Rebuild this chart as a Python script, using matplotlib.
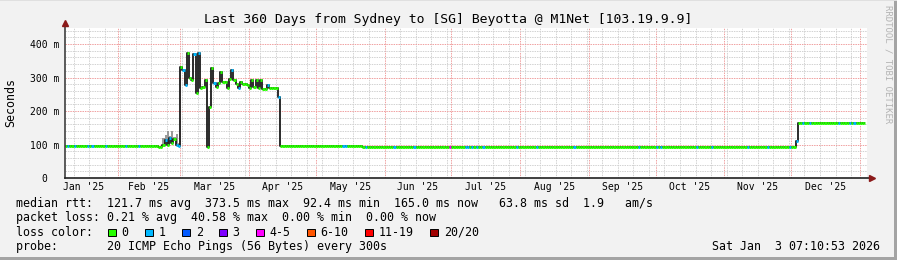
import numpy as np
import pandas as pd
import matplotlib
matplotlib.use("Agg")
import matplotlib.pyplot as plt
import matplotlib.dates as mdates
from matplotlib.patches import Rectangle
from matplotlib.lines import Line2D
from matplotlib.ticker import MultipleLocator, FuncFormatter, NullFormatter

title = "Last 360 Days from Sydney to [SG] Beyotta @ M1Net [103.19.9.9]"
t_start = pd.Timestamp("2025-01-08 07:10:53")
t_end = pd.Timestamp("2026-01-03 07:10:53")

# flat parts of the median rtt (ms)
flat_start = ["2025-01-08", "2025-02-19", "2025-04-15", "2025-05-22", "2025-12-03", "2025-12-04"]
flat_end = ["2025-02-18", "2025-02-20", "2025-05-21", "2025-12-02", "2025-12-03", "2026-01-03"]
flat_rtt = [95, 92.4, 95, 92.5, 111, 165]

# noisy parts (one value per day)
feb_first = "2025-02-21"
feb_rtt = [100, 112, 100, 120, 105, 115, 100, 95]
feb_smoke = [118, 128, 140, 125, 140, 122, 132, 105]

mar_first = "2025-03-01"
mar_rtt = [332, 322, 278, 372, 300, 293, 370, 253, 373.5, 268,
           272, 293, 93, 213, 327, 285, 272, 283, 317, 287,
           287, 268, 297, 322, 293, 280, 268, 287, 280, 282,
           278, 268, 293, 271, 293, 268, 293, 266, 265, 277,
           268, 268, 268, 270, 243]

# days with packet loss (other days: 0 lost)
loss1_days = ["2025-01-09", "2025-01-12", "2025-01-18", "2025-01-20", "2025-01-26",
              "2025-02-04", "2025-02-10", "2025-02-22", "2025-02-24", "2025-02-27",
              "2025-02-28", "2025-03-02", "2025-03-03", "2025-03-07", "2025-03-09",
              "2025-03-16", "2025-03-24", "2025-03-27", "2025-04-09", "2025-04-14",
              "2025-05-13", "2025-05-14", "2025-05-23", "2025-06-05", "2025-06-14",
              "2025-07-07", "2025-07-08", "2025-07-10", "2025-07-12", "2025-07-15",
              "2025-07-30", "2025-08-08", "2025-08-25", "2025-09-23", "2025-10-01",
              "2025-10-03", "2025-10-19", "2025-10-26", "2025-11-11", "2025-11-20",
              "2025-11-30", "2025-12-03", "2025-12-06", "2025-12-09", "2025-12-22",
              "2025-12-27", "2025-12-29"]
loss4_days = ["2025-06-30"]

loss_labels = ["0", "1", "2", "3", "4-5", "6-10", "11-19", "20/20"]
loss_colors = ["#26ff00", "#00b8ff", "#0059ff", "#7e00ff", "#ff00ff", "#ff5500", "#ff0000", "#a10000"]

month_labels = ["Jan '25", "Feb '25", "Mar '25", "Apr '25", "May '25", "Jun '25",
                "Jul '25", "Aug '25", "Sep '25", "Oct '25", "Nov '25", "Dec '25"]

legend_rtt = "median rtt:  121.7 ms avg  373.5 ms max  92.4 ms min  165.0 ms now   63.8 ms sd  1.9   am/s"
legend_loss = "packet loss: 0.21 % avg  40.58 % max  0.00 % min  0.00 % now"
legend_probe = "probe:       20 ICMP Echo Pings (56 Bytes) every 300s"
stamp = "Sat Jan  3 07:10:53 2026"

# build the daily series
parts = [pd.Series(v, index=pd.date_range(s, e)) for s, e, v in zip(flat_start, flat_end, flat_rtt)]
parts.append(pd.Series(feb_rtt, index=pd.date_range(feb_first, periods=len(feb_rtt))))
parts.append(pd.Series(mar_rtt, index=pd.date_range(mar_first, periods=len(mar_rtt))))
rtt = pd.concat(parts).sort_index()

loss = pd.Series(0, index=rtt.index)
loss[pd.to_datetime(loss1_days)] = 1
loss[pd.to_datetime(loss4_days)] = 4

W, H = 897, 260
mono = "DejaVu Sans Mono"
plt.rcParams["font.family"] = mono
bg = "#f2f2f2"

fig = plt.figure(figsize=(W / 100, H / 100), dpi=100, facecolor=bg)
ax = fig.add_axes([65.3 / W, 82 / H, (867 - 65.3) / W, 150 / H])
ax.set_facecolor("white")

x = mdates.date2num(rtt.index)
xe = np.minimum(x + 1, mdates.date2num(t_end))
v = rtt.values

# smoke in feb
fx = mdates.date2num(pd.date_range(feb_first, periods=len(feb_rtt)))
for xi, lo, hi in zip(fx, feb_rtt, feb_smoke):
    ax.fill_between([xi, xi + 1], lo, hi, color="#9a9a9a", lw=0, zorder=2)

ax.step(x, v, where="post", color="#1a1a1a", lw=1.3, zorder=3)
cols = [loss_colors[int(l)] for l in loss.values]
ax.hlines(v, x, xe, colors=cols, lw=2.1, zorder=4)

ax.set_xlim(mdates.date2num(t_start), mdates.date2num(t_end) + 0.85)
ax.set_ylim(0, 447.8)

ax.xaxis.set_major_locator(mdates.MonthLocator())
ax.xaxis.set_minor_locator(mdates.WeekdayLocator(byweekday=mdates.SU))
ax.xaxis.set_major_formatter(NullFormatter())
ax.yaxis.set_major_locator(MultipleLocator(100))
ax.yaxis.set_minor_locator(MultipleLocator(20))
ax.yaxis.set_major_formatter(FuncFormatter(lambda val, p: "0  " if val == 0 else f"{val:.0f} m"))

ax.set_axisbelow(True)
ax.grid(which="minor", color="#d2d2d2", linestyle=(0, (1.5, 1)), lw=0.7)
ax.grid(which="major", color="#f0a0a0", linestyle=(0, (1.5, 1)), lw=0.7)
ax.tick_params(which="both", length=0)
ax.tick_params(axis="y", labelsize=7.05, pad=4.3)
for s in ax.spines.values():
    s.set_visible(False)

# axes with arrows
ax.add_line(Line2D([0, 0], [0, 1.03], transform=ax.transAxes, color="#404040", lw=1.2, clip_on=False, zorder=5))
ax.add_line(Line2D([0, 1.003], [0, 0], transform=ax.transAxes, color="#202020", lw=1.2, clip_on=False, zorder=5))
ax.plot([0], [1.035], marker="^", ms=5, color="#8b1a1a", transform=ax.transAxes, clip_on=False, zorder=6)
ax.plot([1.006], [0], marker=">", ms=5, color="#8b1a1a", transform=ax.transAxes, clip_on=False, zorder=6)

# month labels centred in their month
months = pd.date_range("2025-01-01", periods=13, freq="MS")
trans = ax.get_xaxis_transform()
for i, lab in enumerate(month_labels):
    mid = (mdates.date2num(months[i]) + mdates.date2num(months[i + 1])) / 2
    ax.text(mid, -9.5 / 150, lab, transform=trans, ha="center", va="center", fontsize=7.05, clip_on=False)

fy = lambda py: 1 - py / H
fx_ = lambda px: px / W

fig.text(fx_(448), fy(19), title, ha="center", va="center", fontsize=9.45)
fig.text(fx_(11), fy(103), "Seconds", rotation=90, ha="center", va="center", fontsize=8.4)
fig.text(fx_(888), fy(64), "RRDTOOL / TOBI OETIKER", rotation=270, ha="center", va="center",
         fontsize=6.5, color="#b4b4b4")

fig.text(fx_(16), fy(203.5), legend_rtt, ha="left", va="center", fontsize=8.4)
fig.text(fx_(16), fy(217.8), legend_loss, ha="left", va="center", fontsize=8.4)
fig.text(fx_(16), fy(232.1), "loss color:", ha="left", va="center", fontsize=8.4)
fig.text(fx_(16), fy(246.4), legend_probe, ha="left", va="center", fontsize=8.4)
fig.text(fx_(880), fy(246.4), stamp, ha="right", va="center", fontsize=8.4)

bx = 108.3
for lab, c in zip(loss_labels, loss_colors):
    fig.add_artist(Rectangle((fx_(bx), fy(236)), 7.5 / W, 7.5 / H, transform=fig.transFigure,
                             facecolor=c, edgecolor="black", lw=0.7))
    fig.text(fx_(bx + 13.4), fy(232.1), lab, ha="left", va="center", fontsize=8.4)
    bx += 30 + 7 * len(lab)

# frame
fig.add_artist(Rectangle((1 - 3 / W, 0), 3 / W, 1, transform=fig.transFigure, color="#a4a4a4", lw=0))
fig.add_artist(Rectangle((0, 0), 1, 3 / H, transform=fig.transFigure, color="#a4a4a4", lw=0))
fig.add_artist(Rectangle((0, 1 - 1 / H), 1, 1 / H, transform=fig.transFigure, color="#e0e0e0", lw=0))

fig.savefig("out.png", dpi=100, facecolor=bg)
